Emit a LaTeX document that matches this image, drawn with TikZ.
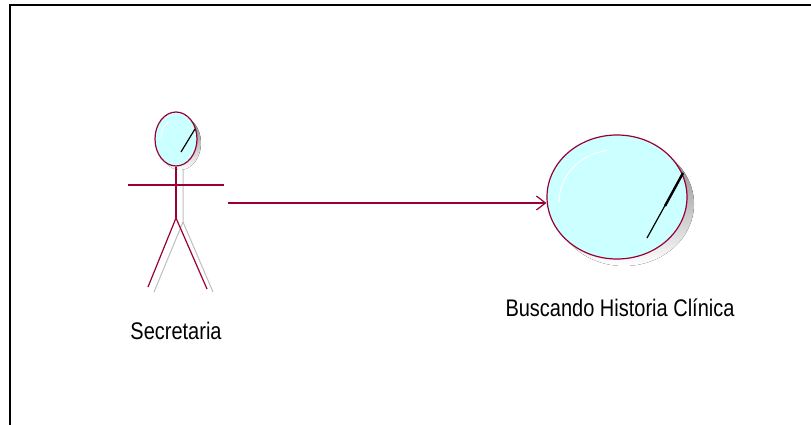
\documentclass[tikz,border=0pt]{standalone}
\usepackage{fontspec}
\setmainfont{Liberation Sans}
\usetikzlibrary{shapes.geometric,arrows.meta}
\definecolor{rose}{RGB}{153,0,51}
\definecolor{ucfill}{RGB}{204,255,255}
\definecolor{shade}{RGB}{190,190,190}
\tikzset{
  rosestroke/.style={draw=rose, line width=1.2pt},
  shadowline/.style={draw=shade, line width=1pt},
  ucshape/.style={ellipse, draw=rose, line width=1.2pt, fill=ucfill, inner sep=0pt},
  lbl/.style={font=\fontsize{20}{22}\selectfont, inner sep=0pt, yscale=1.2, transform shape},
}
\begin{document}
\begin{tikzpicture}[x=1pt,y=-1pt]
\useasboundingbox (0,0) rectangle (811,425);
% frame
\draw[line width=1.5pt] (811,5) -- (10,5) -- (10,425);
% actor shadow
\fill[shade] (180,143) ellipse (21 and 27);
\draw[shadowline] (183,170) -- (183,222) -- (154,292);
\draw[shadowline] (183,222) -- (213,292);
% actor
\node[ucshape, minimum width=42pt, minimum height=54pt] (head) at (176,139) {};
\draw[white, line width=0.8pt] (161,139) arc[start angle=180, end angle=250, x radius=14, y radius=20];
\draw[black, line width=1.2pt] (181,152) -- (195,129);
\coordinate (hip) at (176,218);
\draw[rosestroke] (head.south) -- (hip);
\coordinate (armL) at (128,185);
\coordinate (armR) at (224,185);
\draw[rosestroke] (armL) -- (armR);
\coordinate (footL) at (148,287);
\coordinate (footR) at (207,289);
\draw[rosestroke] (footL) -- (hip) -- (footR);
\node[lbl] (actlbl) at (176,331) {Secretaria};
% use case shadow
\fill[shade] (624,204) ellipse (70 and 62);
\node[ucshape, minimum width=140pt, minimum height=124pt] (uc) at (617,197) {};
\draw[white, line width=1pt] (559,202) arc[start angle=180, end angle=262, x radius=56, y radius=52];
\draw[black, line width=1.2pt] (647,238) -- (683,173);
\draw[black, line width=2.4pt] (665,206) -- (683,173);
\node[lbl] (uclbl) at (620,308) {Buscando Historia Clínica};
% association
\coordinate (actR) at (228,203);
\draw[rosestroke, -{Straight Barb[length=9pt, width=14pt, line width=1.2pt]}] (actR) -- (actR -| uc.west);
\end{tikzpicture}
\end{document}
